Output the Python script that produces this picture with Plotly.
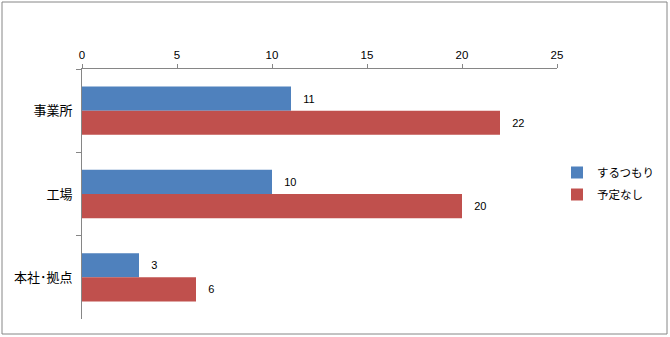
import plotly.graph_objects as go

categories = ["事業所", "工場", "本社･拠点"]
series_names = ["するつもり", "予定なし"]
suru_tsumori = [11, 10, 3]
yotei_nashi = [22, 20, 6]
x_ticks = [0, 5, 10, 15, 20, 25]

colors = ["#4F81BD", "#C0504D"]
font_jp = "Noto Sans CJK JP, Liberation Sans, sans-serif"
font_num = "Liberation Sans, DejaVu Sans, sans-serif"

fig = go.Figure()
for i, (name, vals) in enumerate(zip(series_names, [suru_tsumori, yotei_nashi])):
    fig.add_trace(go.Bar(
        y=categories, x=vals, name=name, orientation="h",
        marker=dict(color=colors[i], line=dict(width=0)),
        texttemplate="   %{x}", textposition="outside",
        textfont=dict(family=font_num, size=11, color="#000000"),
        cliponaxis=False, legendgroup=name,
    ))

# plot area in pixels: x 82..557, y 69..319
L, R, T, B = 82, 113, 69, 18
W, H = 670, 337
pw, ph = W - L - R, H - T - B

fig.update_layout(
    width=W, height=H,
    margin=dict(l=L, r=R, t=T, b=B, pad=0, autoexpand=False),
    paper_bgcolor="white", plot_bgcolor="white",
    barmode="group", bargap=0.42, bargroupgap=0,
    font=dict(family=font_jp, size=12, color="#000000"),
    xaxis=dict(
        side="top", range=[0, 25], tickvals=x_ticks,
        ticks="outside", ticklen=4, tickcolor="#868686",
        showline=True, linecolor="#868686", linewidth=1,
        showgrid=False, zeroline=False,
        tickfont=dict(family=font_num, size=11.5, color="#000000"),
    ),
    yaxis=dict(
        autorange="reversed", ticks="outside", ticklen=5,
        tickson="boundaries", tickcolor="#868686",
        showline=True, linecolor="#868686", linewidth=1,
        showgrid=False, zeroline=False,
        tickfont=dict(family=font_jp, size=13, color="#000000"),
        ticklabelstandoff=6,
    ),
    legend=dict(
        xref="container", yref="container",
        x=557 / W, y=1 - 158 / H, xanchor="left", yanchor="top",
        bgcolor="rgba(0,0,0,0)", borderwidth=0,
        font=dict(family=font_jp, size=11.5, color="#000000"),
        traceorder="grouped", tracegroupgap=3,
        itemwidth=30,
    ),
    showlegend=True,
    shapes=[dict(
        type="rect", xref="paper", yref="paper",
        x0=(2 - L) / pw, x1=(667 - L) / pw,
        y0=(319 - 334) / ph, y1=(319 - 2) / ph,
        line=dict(color="#868686", width=1), fillcolor="rgba(0,0,0,0)",
        layer="below",
    )],
)

fig.write_html("out.html")
